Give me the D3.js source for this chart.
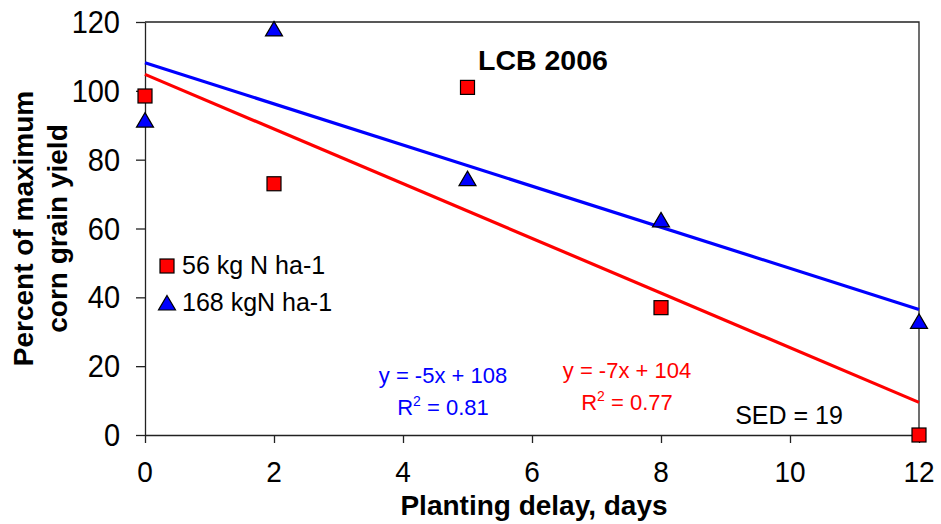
<!DOCTYPE html>
<html>
<head>
<meta charset="utf-8">
<script src="https://cdn.jsdelivr.net/npm/d3@7"></script>
<style>
  html, body { margin: 0; padding: 0; background: #fff; }
  svg text { font-family: "Liberation Sans", Arial, Helvetica, sans-serif; }
</style>
</head>
<body>
<svg id="chart" width="941" height="524"></svg>
<script>
// planting delay (days) and percent of maximum yield
const days = [0, 2, 5, 8, 12];
const yield56 = [98.5, 73, 101, 37, 0];
const yield168 = [91.5, 118, 74.5, 62.5, 33];
const xTicks = [0, 2, 4, 6, 8, 10, 12];
const yTicks = [0, 20, 40, 60, 80, 100, 120];
const legendLabels = ['56 kg N ha-1', '168 kgN ha-1'];
const eq56 = ['y = -7x + 104', '0.77'];
const eq168 = ['y = -5x + 108', '0.81'];

const RED = '#ff0000';
const BLUE = '#0000ff';

const svg = d3.select('#chart');
const x = d3.scaleLinear().domain([0, 12]).range([145, 919]);
const y = d3.scaleLinear().domain([0, 120]).range([435, 22]);

// least squares line through a series
function fit(xs, ys) {
  const mx = d3.mean(xs), my = d3.mean(ys);
  const sxy = d3.sum(xs, (v, i) => (v - mx) * (ys[i] - my));
  const sxx = d3.sum(xs, v => (v - mx) ** 2);
  const b = sxy / sxx;
  return { b, a: my - b * mx };
}

// frame (top + right)
svg.append('path')
  .attr('d', `M${x(0)},${y(120)}H${x(12)}V${y(0)}`)
  .attr('fill', 'none').attr('stroke', '#222').attr('stroke-width', 1.3);

// axes
svg.append('g')
  .attr('transform', `translate(0,${y(0)})`)
  .call(d3.axisBottom(x).tickValues(xTicks).tickSize(8).tickSizeOuter(0).tickFormat(''))
  .call(g => g.selectAll('line, path').attr('stroke', '#222').attr('stroke-width', 1.3));

svg.append('g')
  .attr('transform', `translate(${x(0)},0)`)
  .call(d3.axisLeft(y).tickValues(yTicks).tickSize(9).tickSizeOuter(0).tickFormat(''))
  .call(g => g.selectAll('line, path').attr('stroke', '#222').attr('stroke-width', 1.3));

// tick labels, a little taller than wide as in the source
svg.append('g').selectAll('text')
  .data(xTicks)
  .join('text')
  .attr('transform', d => `translate(${x(d)},482) scale(1,1.05)`)
  .attr('text-anchor', 'middle')
  .attr('font-size', 28)
  .text(d => d);

svg.append('g').selectAll('text')
  .data(yTicks)
  .join('text')
  .attr('transform', d => `translate(120,${y(d) + 11}) scale(1,1.08)`)
  .attr('text-anchor', 'end')
  .attr('font-size', 29)
  .text(d => d);

// axis titles
svg.append('text')
  .attr('x', (x(0) + x(12)) / 2 + 2).attr('y', 515)
  .attr('text-anchor', 'middle')
  .attr('font-size', 28).attr('font-weight', 'bold')
  .text('Planting delay, days');

const yTitle = svg.append('text')
  .attr('transform', `translate(0,${(y(0) + y(120)) / 2}) rotate(-90)`)
  .attr('text-anchor', 'middle')
  .attr('font-size', 28).attr('font-weight', 'bold');
yTitle.append('tspan').attr('x', 0).attr('y', 33).text('Percent of maximum');
yTitle.append('tspan').attr('x', 0).attr('y', 67).text('corn grain yield');

// regression lines
const series = [
  { ys: yield56, color: RED },
  { ys: yield168, color: BLUE }
];
for (const s of series) {
  const { a, b } = fit(days, s.ys);
  svg.append('line')
    .attr('x1', x(0)).attr('y1', y(a))
    .attr('x2', x(12)).attr('y2', y(a + b * 12))
    .attr('stroke', s.color).attr('stroke-width', 3.2);
}

// markers
const tri = 'M0,-7.5L8.5,7L-8.5,7Z';
svg.append('g').selectAll('path')
  .data(days.map((d, i) => [d, yield168[i]]))
  .join('path')
  .attr('transform', d => `translate(${x(d[0])},${y(d[1])})`)
  .attr('d', tri)
  .attr('fill', BLUE).attr('stroke', '#000').attr('stroke-width', 1.2);

svg.append('g').selectAll('rect')
  .data(days.map((d, i) => [d, yield56[i]]))
  .join('rect')
  .attr('x', d => x(d[0]) - 7).attr('y', d => y(d[1]) - 7)
  .attr('width', 14).attr('height', 14)
  .attr('fill', RED).attr('stroke', '#000').attr('stroke-width', 1.2);

// legend
svg.append('rect')
  .attr('x', 160).attr('y', 259).attr('width', 14).attr('height', 14)
  .attr('fill', RED).attr('stroke', '#000').attr('stroke-width', 1.2);
svg.append('path')
  .attr('transform', 'translate(167,303)')
  .attr('d', tri)
  .attr('fill', BLUE).attr('stroke', '#000').attr('stroke-width', 1.2);
svg.append('g').selectAll('text')
  .data(legendLabels)
  .join('text')
  .attr('x', 182).attr('y', (d, i) => 274 + i * 37)
  .attr('font-size', 25)
  .text(d => d);

// title
svg.append('text')
  .attr('x', 478).attr('y', 70)
  .attr('font-size', 28.5).attr('font-weight', 'bold')
  .text('LCB 2006');

// equations
function equation(lines, cx, y0, color) {
  svg.append('text')
    .attr('x', cx).attr('y', y0)
    .attr('text-anchor', 'middle')
    .attr('font-size', 22).attr('fill', color)
    .text(lines[0]);
  const r = svg.append('text')
    .attr('x', cx).attr('y', y0 + 32)
    .attr('text-anchor', 'middle')
    .attr('font-size', 22).attr('fill', color);
  r.append('tspan').text('R');
  r.append('tspan').attr('font-size', 14).attr('dy', -9).text('2');
  r.append('tspan').attr('dy', 9).text(' = ' + lines[1]);
}
equation(eq168, 443, 383, BLUE);
equation(eq56, 627, 378, RED);

svg.append('text')
  .attr('x', 789).attr('y', 424)
  .attr('text-anchor', 'middle')
  .attr('font-size', 25)
  .text('SED = 19');
</script>
</body>
</html>
